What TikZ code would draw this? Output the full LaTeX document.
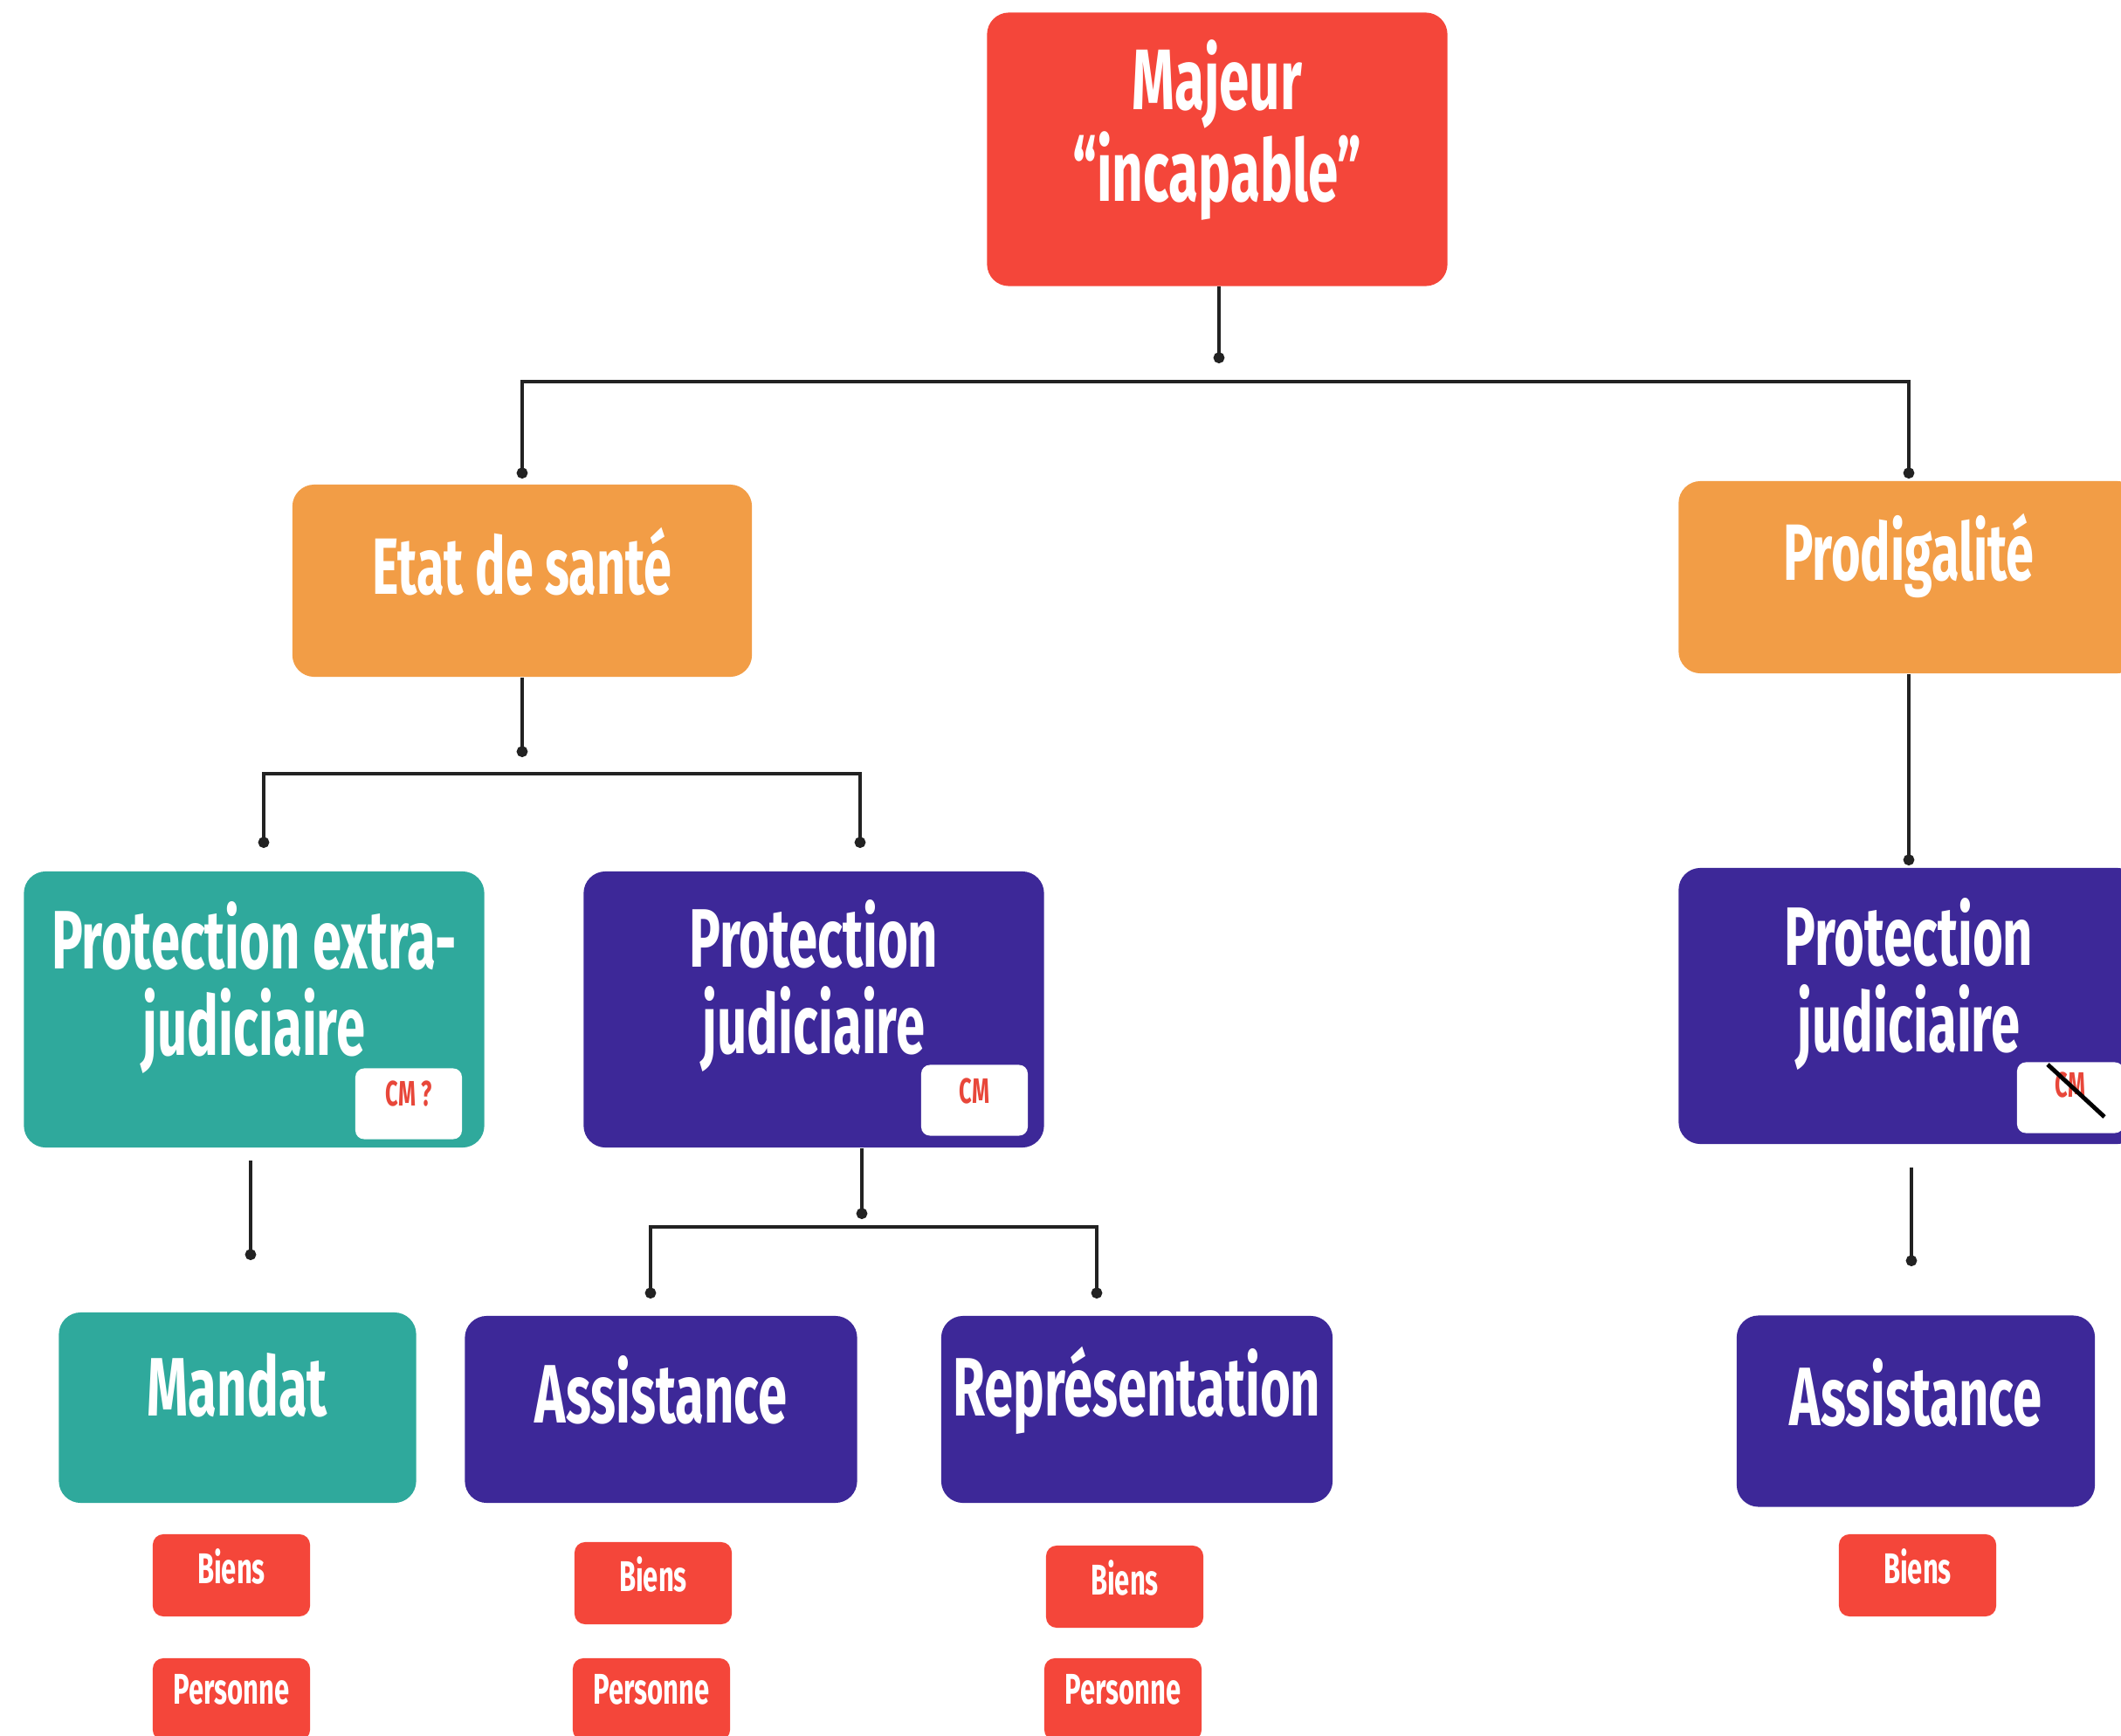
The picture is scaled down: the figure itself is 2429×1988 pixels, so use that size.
\documentclass[tikz,border=0pt]{standalone}
\usepackage{fontspec}
\setmainfont{Fira Sans}[FakeStretch=0.63]
\usetikzlibrary{arrows.meta}
\definecolor{cred}{HTML}{F4463A}
\definecolor{corange}{HTML}{F29D46}
\definecolor{cteal}{HTML}{2FA99C}
\definecolor{cpurple}{HTML}{3D2898}
\definecolor{cline}{HTML}{222222}
\definecolor{ctxt}{HTML}{E8473A}
\tikzset{
  box/.style 2 args={rectangle, rounded corners=0.25cm, minimum width=#1, minimum height=#2, inner sep=0pt},
  sbox/.style={rectangle, rounded corners=0.12cm, minimum width=1.8cm, minimum height=0.94cm, inner sep=0pt, fill=cred},
  cmbox/.style={rectangle, rounded corners=0.1cm, minimum width=1.22cm, minimum height=0.81cm, inner sep=0pt, fill=white},
  lbl/.style={text=white, align=center, inner sep=0pt},
  big/.style={font=\fontsize{27}{28}\selectfont\bfseries},
  mid/.style={font=\fontsize{26}{28}\selectfont\bfseries},
  small/.style={font=\fontsize{14}{15}\selectfont\bfseries},
  cmtxt/.style={text=ctxt, inner sep=0pt, font=\fontsize{11.5}{12}\selectfont\bfseries},
  conn/.style={draw=cline, line width=0.9pt},
  dotend/.style={-{Circle[length=3.6pt]}},
  dotboth/.style={{Circle[length=3.6pt]}-{Circle[length=3.6pt]}},
}
\begin{document}
\begin{tikzpicture}[x=0.01cm,y=-0.01cm]
\useasboundingbox (0,0) rectangle (2429,1988);
\clip (0,0) rectangle (2429,1988);
\fill[white] (0,0) rectangle (2429,1988);

% level 0
\node[box={5.27cm}{3.13cm}, fill=cred] (maj) at (1394,171) {};
\node[lbl, font=\fontsize{28}{26}\selectfont\bfseries] (majT) at ([yshift=0.22cm]maj.center) {Majeur\\“incapable”};

% level 1
\node[box={5.26cm}{2.2cm}, fill=corange] (etat) at (598,665) {};
\node[lbl, mid] (etatT) at ([yshift=0.22cm]etat.center) {Etat de santé};
\node[box={5.27cm}{2.2cm}, fill=corange] (prod) at (2186,661) {};
\node[lbl, mid] (prodT) at ([yshift=0.25cm]prod.center) {Prodigalité};

% level 2
\node[box={5.27cm}{3.16cm}, fill=cteal] (pej) at (291,1156) {};
\node[lbl, big] (pejT) at ([yshift=0.25cm]pej.center) {Protection extra-\\judiciaire};
\node[box={5.27cm}{3.16cm}, fill=cpurple] (pj) at (932,1156) {};
\node[lbl, big] (pjT) at ([yshift=0.27cm]pj.center) {Protection\\judiciaire};
\node[box={5.27cm}{3.16cm}, fill=cpurple] (pjr) at (2186,1152) {};
\node[lbl, big] (pjrT) at ([yshift=0.25cm]pjr.center) {Protection\\judiciaire};

% CM boxes
\node[cmbox] (cm1) at (468,1264) {};
\node[cmtxt] (cm1T) at ([yshift=0.12cm]cm1.center) {CM ?};
\node[cmbox] (cm2) at (1116,1260) {};
\node[cmtxt] (cm2T) at ([yshift=0.11cm]cm2.center) {CM};
\node[cmbox] (cm3) at (2371,1257) {};
\node[cmtxt] (cm3T) at ([yshift=0.15cm]cm3.center) {CM};
\coordinate (x1) at (2345,1219);
\coordinate (x2) at (2410,1279);
\draw[black, line width=1.4pt] (x1) -- (x2);

% level 3
\node[box={4.09cm}{2.18cm}, fill=cteal] (mand) at (272,1612) {};
\node[lbl, big] (mandT) at ([yshift=0.26cm]mand.center) {Mandat};
\node[box={4.49cm}{2.14cm}, fill=cpurple] (assi) at (757,1614) {};
\node[lbl, big] (assiT) at ([yshift=0.22cm]assi.center) {Assistance};
\node[box={4.48cm}{2.14cm}, fill=cpurple] (repr) at (1302,1614) {};
\node[lbl, big] (reprT) at ([yshift=0.22cm]repr.center) {Représentation};
\node[box={4.1cm}{2.19cm}, fill=cpurple] (assr) at (2194,1616) {};
\node[lbl, big] (assrT) at ([yshift=0.21cm]assr.center) {Assistance};

% level 4
\node[sbox] (b1) at (265,1804) {};
\node[lbl, small] (b1T) at ([yshift=0.1cm]b1.center) {Biens};
\node[sbox] (p1) at (265,1946) {};
\node[lbl, small] (p1T) at ([yshift=0.11cm]p1.center) {Personne};
\node[sbox] (b2) at (748,1813) {};
\node[lbl, small] (b2T) at ([yshift=0.1cm]b2.center) {Biens};
\node[sbox] (p2) at (746,1946) {};
\node[lbl, small] (p2T) at ([yshift=0.11cm]p2.center) {Personne};
\node[sbox] (b3) at (1288,1817) {};
\node[lbl, small] (b3T) at ([yshift=0.1cm]b3.center) {Biens};
\node[sbox] (p3) at (1286,1946) {};
\node[lbl, small] (p3T) at ([yshift=0.11cm]p3.center) {Personne};
\node[sbox] (b4) at (2196,1804) {};
\node[lbl, small] (b4T) at ([yshift=0.1cm]b4.center) {Biens};

% connectors
\coordinate (d0) at (1396,416);
\draw[conn, dotend] (maj.south -| d0) -- (d0);
\coordinate (hA) at (598,437);
\coordinate (hB) at (2186,437);
\coordinate (dA) at (598,548);
\coordinate (dB) at (2186,548);
\draw[conn, dotboth] (dA) -- (hA) -- (hB) -- (dB);

\coordinate (d1) at (598,867);
\draw[conn, dotend] (etat.south) -- (d1);
\coordinate (hC) at (302,886);
\coordinate (hD) at (985,886);
\coordinate (dC) at (302,971);
\coordinate (dD) at (985,971);
\draw[conn, dotboth] (dC) -- (hC) -- (hD) -- (dD);

\coordinate (d2) at (2186,991);
\draw[conn, dotend] (prod.south) -- (d2);

\coordinate (s3) at (287,1329);
\coordinate (d3) at (287,1443);
\draw[conn, dotend] (s3) -- (d3);

\coordinate (d4) at (987,1396);
\draw[conn, dotend] (pj.south -| d4) -- (d4);
\coordinate (hE) at (745,1405);
\coordinate (hF) at (1256,1405);
\coordinate (dE) at (745,1487);
\coordinate (dF) at (1256,1487);
\draw[conn, dotboth] (dE) -- (hE) -- (hF) -- (dF);

\coordinate (s5) at (2189,1337);
\coordinate (d5) at (2189,1450);
\draw[conn, dotend] (s5) -- (d5);
\end{tikzpicture}
\end{document}
